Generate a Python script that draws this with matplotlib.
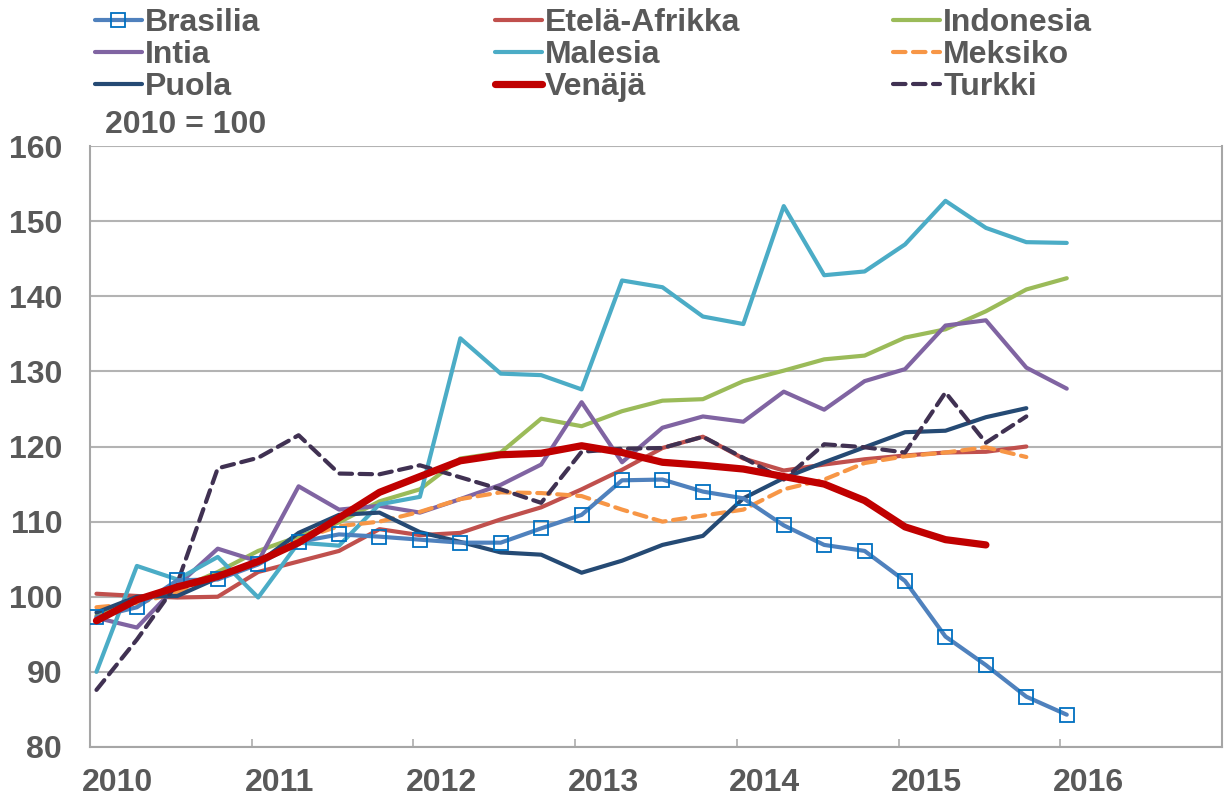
import matplotlib
matplotlib.use('Agg')
import matplotlib.pyplot as plt
import numpy as np

plt.rcParams['font.family'] = ['Liberation Sans', 'DejaVu Sans']

# quarterly index, 2010 = 100, from 2010Q1
brasilia = [97.3, 98.6, 102.2, 102.3, 104.3, 107.3, 108.3, 108.0, 107.6, 107.2, 107.2, 109.1,
            110.9, 115.5, 115.6, 114.0, 113.1, 109.5, 106.9, 106.1, 102.1, 94.7, 90.9, 86.7, 84.3]
etela_afrikka = [100.4, 100.1, 99.9, 100.0, 103.3, 104.7, 106.1, 109.0, 108.2, 108.5, 110.3, 111.9,
                 114.3, 116.9, 119.8, 121.3, 118.4, 116.8, 117.6, 118.3, 118.8, 119.2, 119.3, 120.0]
indonesia = [97.5, 99.3, 101.0, 103.3, 106.1, 108.0, 109.9, 112.7, 114.3, 118.4, 119.2, 123.7,
             122.7, 124.7, 126.1, 126.3, 128.7, 130.1, 131.6, 132.1, 134.5, 135.6, 138.0, 140.9, 142.4]
intia = [97.2, 95.9, 101.5, 106.4, 104.7, 114.7, 111.6, 112.1, 111.2, 113.0, 114.9, 117.6,
         125.9, 117.9, 122.5, 124.0, 123.3, 127.3, 124.9, 128.7, 130.3, 136.1, 136.8, 130.5, 127.7]
malesia = [90.0, 104.1, 102.3, 105.3, 99.9, 107.2, 106.8, 112.3, 113.3, 134.4, 129.7, 129.5,
           127.6, 142.1, 141.2, 137.3, 136.3, 152.0, 142.8, 143.3, 146.9, 152.7, 149.1, 147.2, 147.1]
meksiko = [98.6, 99.1, 100.6, 102.5, 104.5, 107.6, 109.4, 110.0, 111.3, 113.0, 113.9, 113.8,
           113.4, 111.6, 110.0, 110.8, 111.6, 114.3, 115.6, 117.8, 118.7, 119.2, 119.9, 118.6]
puola = [97.9, 100.0, 100.1, 102.5, 104.5, 108.5, 110.9, 111.2, 108.6, 107.3, 105.9, 105.6,
         103.2, 104.8, 106.9, 108.1, 113.1, 115.8, 117.9, 119.9, 121.9, 122.1, 123.9, 125.1]
venaja = [96.8, 99.6, 101.3, 102.7, 104.7, 107.2, 110.5, 113.9, 116.0, 118.1, 118.9, 119.1,
          120.1, 119.2, 117.9, 117.5, 117.0, 116.0, 115.0, 112.8, 109.3, 107.6, 106.9]
turkki = [87.6, 94.3, 101.8, 117.1, 118.5, 121.5, 116.4, 116.3, 117.5, 115.9, 114.3, 112.5,
          119.3, 119.7, 119.8, 121.3, 118.5, 115.6, 120.3, 119.9, 119.2, 127.2, 120.5, 124.0]

years = [2010, 2011, 2012, 2013, 2014, 2015, 2016]
x = 2010.04 + 0.25 * np.arange(25)

gray = '#595959'
fs = 23
fig = plt.figure(figsize=(12.24, 7.98), dpi=100)
ax = fig.add_axes([90/1224, 1-747/798, 1132/1224, 601/798])

series = [
    ('Brasilia', brasilia, dict(color='#4F81BD', lw=3, marker='s', ms=10, mfc='none', mec='#0070C0', mew=1.3)),
    ('Etelä-Afrikka', etela_afrikka, dict(color='#C0504D', lw=3)),
    ('Indonesia', indonesia, dict(color='#9BBB59', lw=3)),
    ('Intia', intia, dict(color='#8064A2', lw=3)),
    ('Malesia', malesia, dict(color='#4BACC6', lw=3)),
    ('Meksiko', meksiko, dict(color='#F79646', lw=3, ls=(0, (3, 1.8)))),
    ('Puola', puola, dict(color='#254A74', lw=3)),
    ('Venäjä', venaja, dict(color='#C00000', lw=5.2)),
    ('Turkki', turkki, dict(color='#403152', lw=3, ls=(0, (3, 1.8)))),
]
handles = {}
order = ['Brasilia', 'Intia', 'Puola', 'Etelä-Afrikka', 'Malesia', 'Venäjä',
         'Indonesia', 'Meksiko', 'Turkki']
zorders = {'Venäjä': 5, 'Brasilia': 4}
for name, vals, kw in series:
    h, = ax.plot(x[:len(vals)], vals, label=name, zorder=zorders.get(name, 3),
                 solid_capstyle='round', dash_capstyle='round', **kw)
    handles[name] = h

ax.set_xlim(2010, 2017)
ax.set_ylim(80, 160)
ax.set_yticks(range(80, 161, 10))
ax.yaxis.grid(True, color='#B3B3B3', lw=1.5)
ax.set_axisbelow(True)
ax.set_xticks(years[1:] + [2017])
ax.set_xticklabels([])
ax.set_xticks([y + 0.173 for y in years], minor=True)
ax.set_xticklabels([str(y) for y in years], minor=True)
ax.tick_params(axis='x', which='major', direction='in', length=6, width=1.3, color='#B3B3B3')
ax.tick_params(axis='x', which='minor', length=0, pad=15, labelsize=fs, labelcolor=gray)
ax.tick_params(axis='y', length=0, pad=20, labelsize=fs, labelcolor=gray)
for lab in ax.get_xticklabels(minor=True) + ax.get_yticklabels():
    lab.set_fontweight('bold')
for s in ['left', 'bottom', 'right']:
    ax.spines[s].set_color('#A6A6A6')
    ax.spines[s].set_linewidth(1.5)
ax.spines['top'].set_visible(False)

ax.text(105/1224, 1-125/798, '2010 = 100', transform=fig.transFigure, fontsize=fs,
        fontweight='bold', color=gray, va='center', ha='left')

cols = [order[0:3], order[3:6], order[6:9]]
xs = [95, 495, 893]
for names, xl in zip(cols, xs):
    leg = fig.legend([handles[n] for n in names], names, loc='upper left',
                     bbox_to_anchor=(xl/1224, 1-8/798), frameon=False, borderpad=0,
                     borderaxespad=0, handlelength=1.47, handletextpad=0.1,
                     labelspacing=0.07, prop=dict(size=fs, weight='bold'))
    for t in leg.get_texts():
        t.set_color(gray)

fig.savefig('out.png', dpi=100)
